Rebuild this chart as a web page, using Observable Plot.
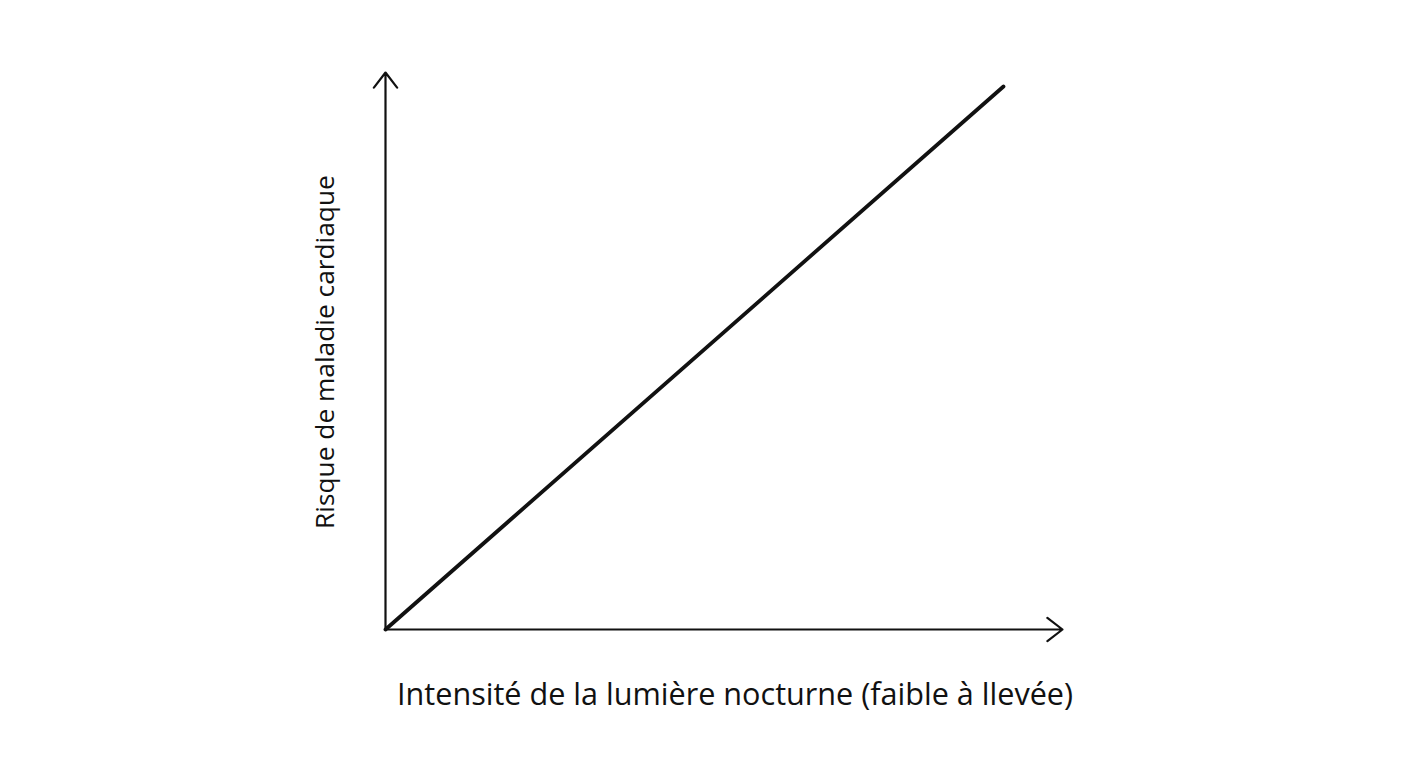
<!DOCTYPE html>
<html>
<head>
<meta charset="utf-8">
<script src="https://cdn.jsdelivr.net/npm/d3@7"></script>
<script src="https://cdn.jsdelivr.net/npm/@observablehq/plot@0.6"></script>
<style>
  html, body { margin: 0; padding: 0; background: #ffffff; }
  #chart svg { display: block; }
</style>
</head>
<body>
<div id="chart"></div>
<script>
// Data (conceptual, unitless)
const intensity = [0, 1];
const risk = [0, 1];
const xLabel = "Intensité de la lumière nocturne (faible à llevée)";
const yLabel = "Risque de maladie cardiaque";
const xAxisEnd = 1.0955;
const yAxisEnd = 1.0258;

const lineData = intensity.map((x, i) => ({x, y: risk[i]}));

const chart = Plot.plot({
  width: 1408,
  height: 768,
  marginLeft: 385,
  marginRight: 346,
  marginTop: 72,
  marginBottom: 139,
  style: {background: "#ffffff", fontFamily: "'Open Sans', sans-serif"},
  x: {domain: [0, xAxisEnd], axis: null},
  y: {domain: [0, yAxisEnd], axis: null},
  marks: [
    Plot.arrow([{x1: 0, y1: 0, x2: xAxisEnd, y2: 0}], {x1: "x1", y1: "y1", x2: "x2", y2: "y2", stroke: "#111", strokeWidth: 2.2, headLength: 13, headAngle: 75, insetEnd: 0, insetStart: 0}),
    Plot.arrow([{x1: 0, y1: 0, x2: 0, y2: yAxisEnd}], {x1: "x1", y1: "y1", x2: "x2", y2: "y2", stroke: "#111", strokeWidth: 2.2, headLength: 13, headAngle: 75, insetEnd: 0, insetStart: 0}),
    Plot.line(lineData, {x: "x", y: "y", stroke: "#111", strokeWidth: 3.8}),
    Plot.text([xLabel], {x: 0.5656, y: -0.1215, text: d => d, fontSize: 30.6, fill: "#111", clip: false}),
    Plot.text([yLabel], {x: -0.097, y: 0.511, text: d => d, fontSize: 26.3, rotate: -90, fill: "#111", clip: false})
  ]
});
document.getElementById("chart").appendChild(chart);
</script>
</body>
</html>
